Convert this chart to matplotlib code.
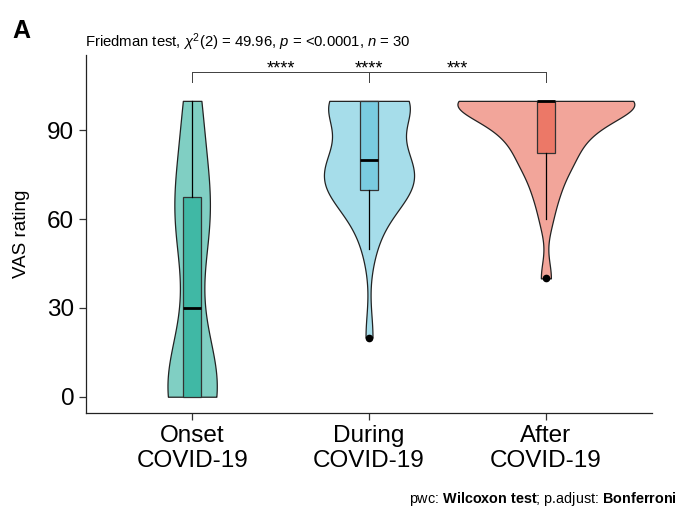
import numpy as np
import matplotlib
matplotlib.use("Agg")
import matplotlib.pyplot as plt

# VAS ratings (n = 30 per time point), estimated from the violin/box shapes
onset = [0, 0, 0, 0, 0, 0, 0, 0, 0, 0, 0, 10, 10, 20, 20,
         40, 50, 60, 60, 60, 60, 60, 70, 70, 70, 80, 90, 100, 100, 100]
during = [20, 50, 60, 60, 70, 70, 70, 70, 70, 70, 70, 75, 80, 80, 80,
          80, 80, 80, 90, 90, 100, 100, 100, 100, 100, 100, 100, 100, 100, 100]
after = [40, 60, 70, 70, 80, 80, 80, 80, 90, 90, 90, 90, 90, 90, 100,
         100, 100, 100, 100, 100, 100, 100, 100, 100, 100, 100, 100, 100, 100, 100]

groups = ["Onset\nCOVID-19", "During\nCOVID-19", "After\nCOVID-19"]
yticks = [0, 30, 60, 90]

# pairwise comparisons: (group a, group b, label)
pairs = [(1, 2, "****"), (1, 3, "****"), (2, 3, "***")]
bracket_y = 109.9

violin_col = ["#80CFC3", "#A6DDEA", "#F2A59A"]
box_col = ["#40B8A5", "#7ACCE0", "#EC7867"]

plt.rcParams["font.family"] = ["Liberation Sans", "DejaVu Sans"]
plt.rcParams["mathtext.fontset"] = "custom"
plt.rcParams["mathtext.rm"] = "Liberation Sans"
plt.rcParams["mathtext.it"] = "Liberation Sans:italic"
plt.rcParams["mathtext.bf"] = "Liberation Sans:bold"


def bw_nrd0(x):
    x = np.asarray(x, float)
    sd = np.std(x, ddof=1)
    q75, q25 = np.percentile(x, [75, 25])
    lo = min(sd, (q75 - q25) / 1.34)
    if lo == 0:
        lo = sd
    return 0.9 * lo * len(x) ** -0.2


def kde(x, n=512):
    x = np.asarray(x, float)
    bw = bw_nrd0(x)
    grid = np.linspace(x.min(), x.max(), n)
    z = (grid[:, None] - x[None, :]) / bw
    dens = np.exp(-0.5 * z ** 2).sum(axis=1) / (len(x) * bw * np.sqrt(2 * np.pi))
    return grid, dens


fig = plt.figure(figsize=(6.79, 5.09), dpi=100)
ax = fig.add_axes([86 / 679, 1 - 413 / 509, (652 - 86) / 679, (413 - 55) / 509])

data = [onset, during, after]
dens_all = [kde(d) for d in data]
dmax = max(d.max() for _, d in dens_all)

for i, (grid, dens) in enumerate(dens_all):
    pos = i + 1
    hw = dens / dmax * 0.5
    ax.fill_betweenx(grid, pos - hw, pos + hw, facecolor=violin_col[i],
                     edgecolor="#222222", linewidth=0.9, zorder=2)

bp = ax.boxplot(data, positions=[1, 2, 3], widths=0.1, patch_artist=True,
                showcaps=False, whis=1.5, zorder=3,
                medianprops=dict(color="black", linewidth=2),
                whiskerprops=dict(color="black", linewidth=0.9),
                boxprops=dict(edgecolor="#333333", linewidth=0.9),
                flierprops=dict(marker="o", markerfacecolor="black",
                                markeredgecolor="black", markersize=4.5))
for patch, c in zip(bp["boxes"], box_col):
    patch.set_facecolor(c)

# significance brackets
for a, b, lab in pairs:
    ax.plot([a, a, b, b], [bracket_y - 3.4, bracket_y, bracket_y, bracket_y - 3.4],
            color="#444444", linewidth=0.7, zorder=4, clip_on=False)
    ax.text((a + b) / 2, bracket_y - 0.6, lab, ha="center", va="baseline",
            fontsize=13, zorder=5)

ax.set_xlim(0.4, 3.6)
ax.set_ylim(-5.5, 115.5)
ax.set_xticks([1, 2, 3])
ax.set_xticklabels(groups, fontsize=17.5)
ax.set_yticks(yticks)
ax.set_yticklabels([str(v) for v in yticks], fontsize=17.5)
ax.set_ylabel("VAS rating", fontsize=13.5, labelpad=12)
for s in ["top", "right"]:
    ax.spines[s].set_visible(False)
for s in ["left", "bottom"]:
    ax.spines[s].set_linewidth(0.9)
    ax.spines[s].set_color("#222222")
ax.tick_params(length=5, width=0.9, color="#333333", pad=3.5)

fig.text(12 / 679, 1 - 38 / 509, "A", fontsize=18, fontweight="bold", va="baseline")
fig.text(85 / 679, 1 - 47 / 509,
         r"Friedman test, $\chi^2$(2) = 49.96, $p$ = <0.0001, $n$ = 30",
         fontsize=10.7, va="baseline")
fig.text(677 / 679, 1 - 503 / 509,
         r"pwc: $\mathbf{Wilcoxon\ test}$; p.adjust: $\mathbf{Bonferroni}$",
         fontsize=10.4, ha="right", va="baseline")

fig.savefig("out.png", dpi=100)
